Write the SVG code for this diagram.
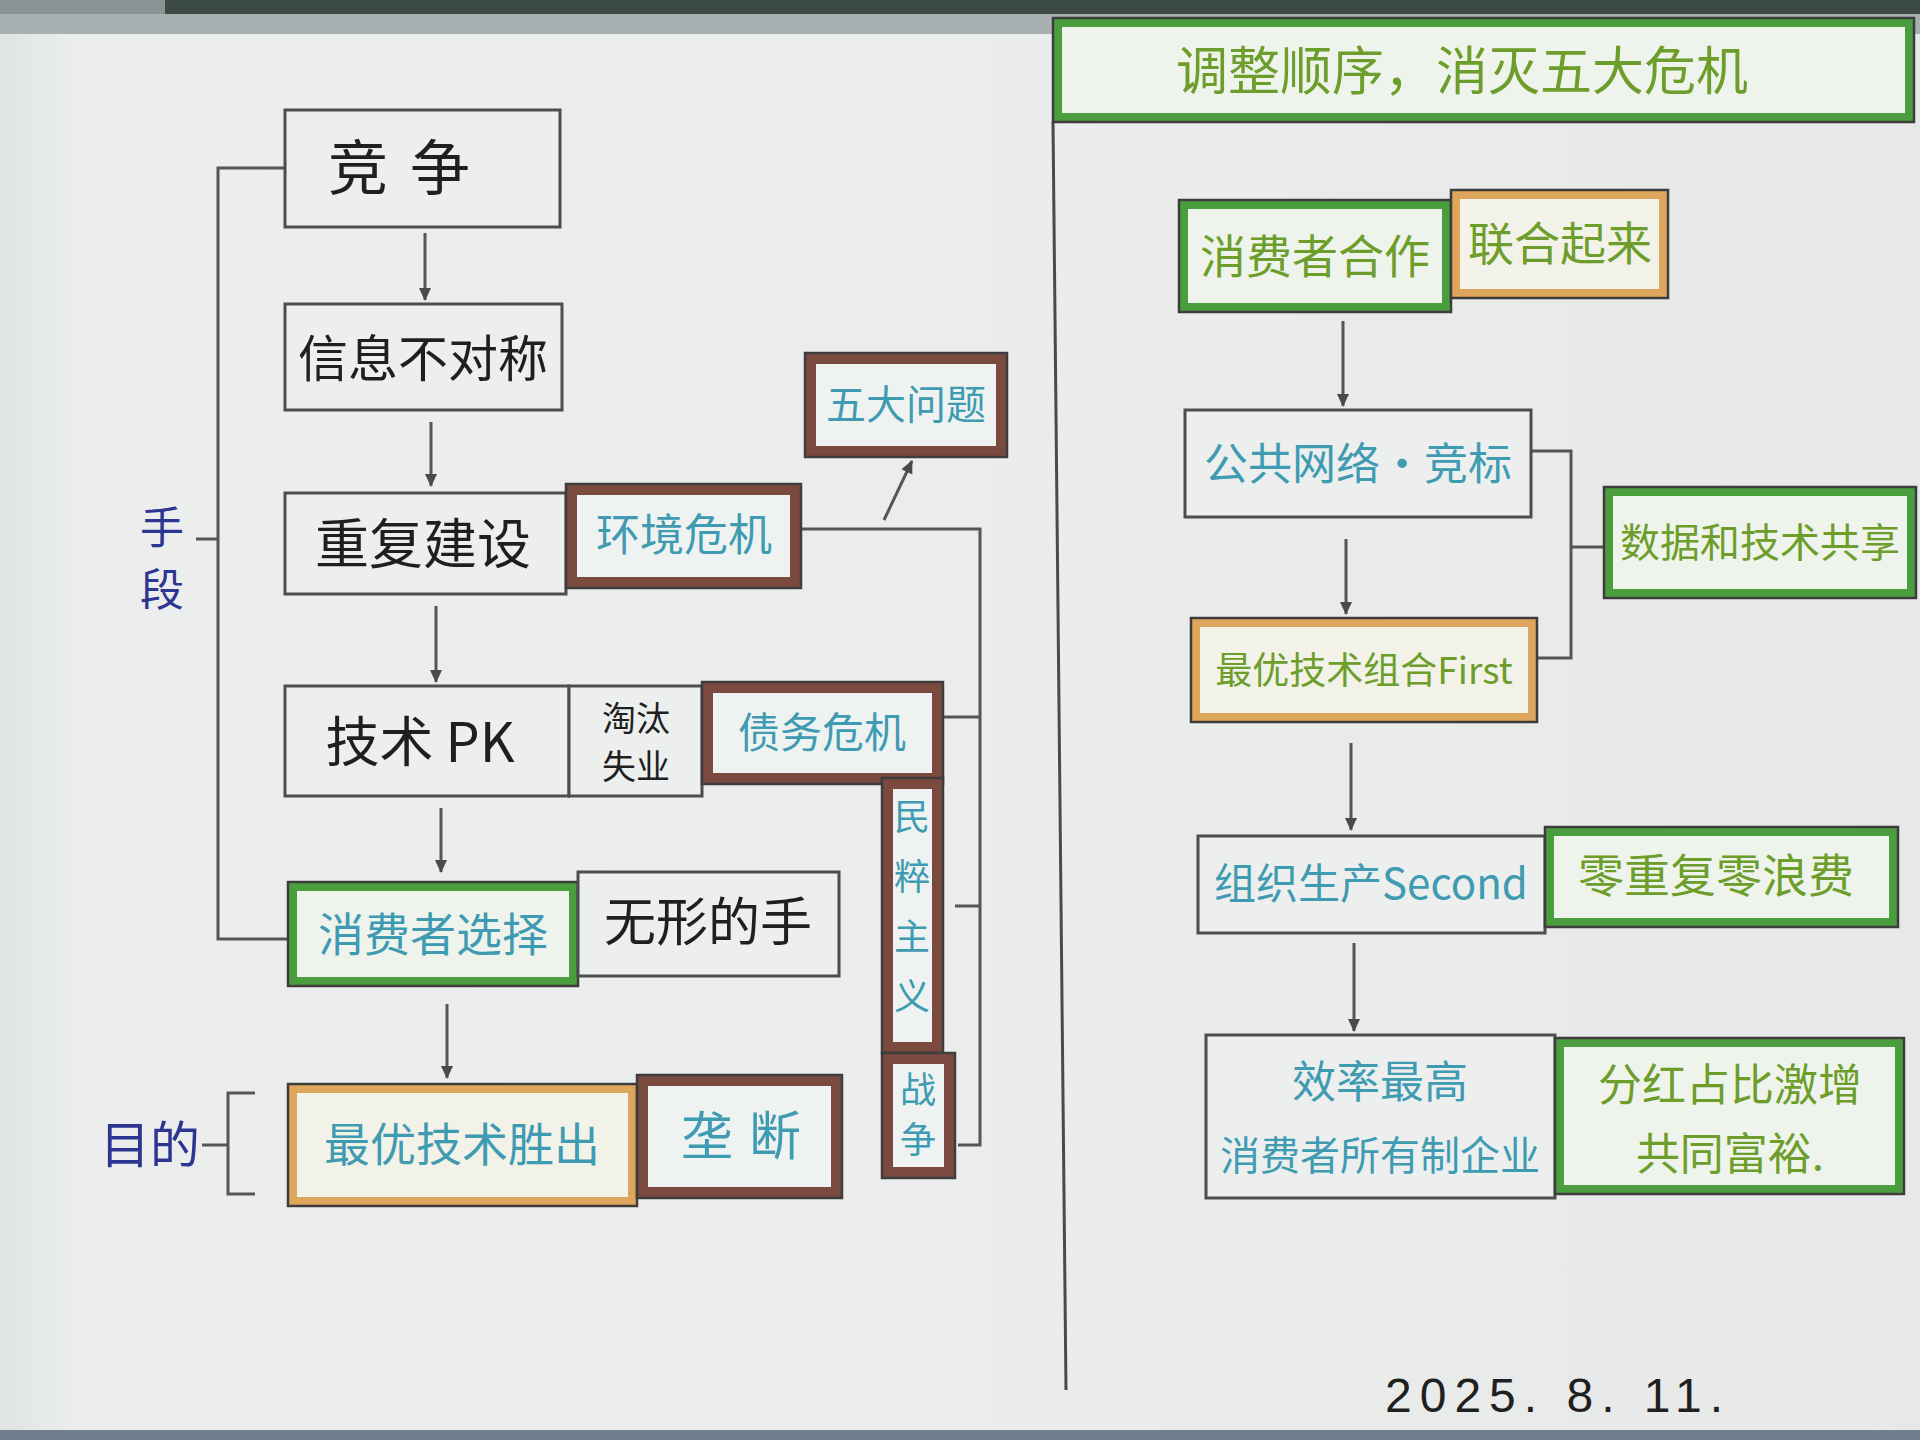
<svg xmlns="http://www.w3.org/2000/svg" width="1920" height="1440" viewBox="0 0 1920 1440">
<defs>
<linearGradient id="paper" x1="0" y1="0" x2="1" y2="0">
<stop offset="0" stop-color="#dfe3e3"/>
<stop offset="0.04" stop-color="#eceeee"/>
<stop offset="0.5" stop-color="#ebedec"/>
<stop offset="1" stop-color="#e6e9e8"/>
</linearGradient>
<marker id="ah" markerWidth="16" markerHeight="16" refX="13" refY="8" orient="auto" markerUnits="userSpaceOnUse">
<path d="M1,2 L14,8 L1,14 Z" fill="#4a4a4a"/>
</marker>
<style>
.box{fill:#ecefee;stroke:#4d4d4d;stroke-width:3}
.brown{fill:#eef3f2;stroke:#7b4a3f;stroke-width:11}
.green{fill:#eef4ec;stroke:#4b9e3e;stroke-width:9}
.orange{fill:#f2f2e8;stroke:#dea65c;stroke-width:9}
.ol{fill:none;stroke:#3d3d3d;stroke-width:2.5}
.edge{fill:none;stroke:#555;stroke-width:3}
text{font-family:"Noto Sans CJK SC","Noto Sans",sans-serif;text-anchor:middle}
.k{fill:#1f1f1f}
.t{fill:#3f9bb1}
.g{fill:#6d9d2a}
.n{fill:#2c3592}
</style>
</defs>
<rect x="0" y="0" width="1920" height="1440" fill="url(#paper)"/>
<rect x="0" y="0" width="1920" height="14" fill="#3c4a46"/>
<rect x="0" y="0" width="165" height="14" fill="#8b9296"/>
<rect x="0" y="14" width="1920" height="20" fill="#a9b0b2"/>
<rect x="0" y="1430" width="1920" height="10" fill="#6f7f8e"/>
<line x1="1053" y1="122" x2="1066" y2="1390" stroke="#4a4a4a" stroke-width="3"/>

<g id="connectors">
<line class="edge" x1="425" y1="233" x2="425" y2="300" marker-end="url(#ah)"/>
<line class="edge" x1="431" y1="422" x2="431" y2="486" marker-end="url(#ah)"/>
<line class="edge" x1="436" y1="606" x2="436" y2="682" marker-end="url(#ah)"/>
<line class="edge" x1="441" y1="808" x2="441" y2="872" marker-end="url(#ah)"/>
<line class="edge" x1="447" y1="1004" x2="447" y2="1078" marker-end="url(#ah)"/>
<line class="edge" x1="884" y1="520" x2="912" y2="461" marker-end="url(#ah)"/>
<polyline class="edge" points="801,529 980,529 980,1145 958,1145"/>
<line class="edge" x1="943" y1="717" x2="980" y2="717"/>
<line class="edge" x1="955" y1="906" x2="980" y2="906"/>
<polyline class="edge" points="285,168 218,168 218,939 288,939"/>
<line class="edge" x1="196" y1="539" x2="218" y2="539"/>
<polyline class="edge" points="255,1093 228,1093 228,1194 255,1194"/>
<line class="edge" x1="202" y1="1145" x2="228" y2="1145"/>
<line class="edge" x1="1343" y1="321" x2="1343" y2="406" marker-end="url(#ah)"/>
<line class="edge" x1="1346" y1="539" x2="1346" y2="614" marker-end="url(#ah)"/>
<line class="edge" x1="1351" y1="743" x2="1351" y2="830" marker-end="url(#ah)"/>
<line class="edge" x1="1354" y1="943" x2="1354" y2="1031" marker-end="url(#ah)"/>
<polyline class="edge" points="1531,451 1571,451 1571,658 1537,658"/>
<line class="edge" x1="1571" y1="547" x2="1604" y2="547"/>
</g>

<g id="n-jingzheng">
<rect class="box" x="285" y="110" width="275" height="117"/>
<text class="k" x="410" y="190" font-size="60" letter-spacing="22">竞争</text>
</g>
<g id="n-xinxi">
<rect class="box" x="285" y="304" width="277" height="106"/>
<text class="k" x="423" y="377" font-size="50">信息不对称</text>
</g>
<g id="n-chongfu">
<rect class="box" x="285" y="493" width="281" height="101"/>
<text class="k" x="423" y="564" font-size="54">重复建设</text>
</g>
<g id="n-huanjing">
<rect class="brown" x="571.5" y="489.5" width="224" height="93"/>
<rect class="ol" x="566" y="484" width="235" height="104"/>
<text class="t" x="684" y="551" font-size="44">环境危机</text>
</g>
<g id="n-wuda">
<rect class="brown" x="810.5" y="358.5" width="191" height="93"/>
<rect class="ol" x="805" y="353" width="202" height="104"/>
<text class="t" x="906" y="419" font-size="40">五大问题</text>
</g>
<g id="n-jishupk">
<rect class="box" x="285" y="686" width="284" height="110"/>
<text class="k" x="420" y="762" font-size="54">技术 PK</text>
</g>
<g id="n-taotai">
<rect class="box" x="569" y="686" width="133" height="110"/>
<text class="k" x="636" y="731" font-size="34">淘汰</text>
<text class="k" x="636" y="779" font-size="34">失业</text>
</g>
<g id="n-zhaiwu">
<rect class="brown" x="707.5" y="687.5" width="230" height="91"/>
<rect class="ol" x="702" y="682" width="241" height="102"/>
<text class="t" x="822" y="748" font-size="42">债务危机</text>
</g>
<g id="n-mincui">
<rect class="brown" x="887.5" y="783.5" width="50" height="264"/>
<rect class="ol" x="882" y="778" width="61" height="275"/>
<text class="t" x="912" y="830" font-size="36">民</text>
<text class="t" x="912" y="890" font-size="36">粹</text>
<text class="t" x="912" y="950" font-size="36">主</text>
<text class="t" x="912" y="1010" font-size="36">义</text>
</g>
<g id="n-zhanzheng">
<rect class="brown" x="887.5" y="1058.5" width="62" height="114"/>
<rect class="ol" x="882" y="1053" width="73" height="125"/>
<text class="t" x="918" y="1103" font-size="36">战</text>
<text class="t" x="918" y="1153" font-size="36">争</text>
</g>
<g id="n-xiaofeizhe">
<rect class="green" x="292.5" y="886.5" width="281" height="95"/>
<rect class="ol" x="288" y="882" width="290" height="104"/>
<text class="t" x="433" y="951" font-size="46">消费者选择</text>
</g>
<g id="n-wuxing">
<rect class="box" x="578" y="872" width="261" height="104"/>
<text class="k" x="708" y="941" font-size="52">无形的手</text>
</g>
<g id="n-zuiyou">
<rect class="orange" x="292.5" y="1088.5" width="340" height="113"/>
<rect class="ol" x="288" y="1084" width="349" height="122"/>
<text class="t" x="462" y="1161" font-size="46">最优技术胜出</text>
</g>
<g id="n-longduan">
<rect class="brown" x="642.5" y="1080.5" width="194" height="112"/>
<rect class="ol" x="637" y="1075" width="205" height="123"/>
<text class="t" x="749" y="1155" font-size="52" letter-spacing="16">垄断</text>
</g>
<g id="l-shouduan">
<text class="n" x="162" y="544" font-size="44">手</text>
<text class="n" x="162" y="606" font-size="44">段</text>
</g>
<g id="l-mudi">
<text class="n" x="150" y="1163" font-size="50">目的</text>
</g>

<g id="n-title">
<rect class="green" x="1057.5" y="22.5" width="852" height="95"/>
<rect class="ol" x="1053" y="18" width="861" height="104"/>
<text class="g" x="1462" y="90" font-size="52">调整顺序，消灭五大危机</text>
</g>
<g id="n-hezuo">
<rect class="green" x="1183.5" y="204.5" width="263" height="103"/>
<rect class="ol" x="1179" y="200" width="272" height="112"/>
<text class="g" x="1315" y="273" font-size="46">消费者合作</text>
</g>
<g id="n-lianhe">
<rect class="orange" x="1455.5" y="194.5" width="208" height="99"/>
<rect class="ol" x="1451" y="190" width="217" height="108"/>
<text class="g" x="1560" y="260" font-size="46">联合起来</text>
</g>
<g id="n-gonggong">
<rect class="box" x="1185" y="410" width="346" height="107"/>
<text class="t" x="1358" y="480" font-size="44">公共网络·竞标</text>
</g>
<g id="n-zuhe">
<rect class="orange" x="1195.5" y="622.5" width="337" height="95"/>
<rect class="ol" x="1191" y="618" width="346" height="104"/>
<text class="g" x="1364" y="684" font-size="37">最优技术组合First</text>
</g>
<g id="n-shuju">
<rect class="green" x="1608.5" y="491.5" width="303" height="102"/>
<rect class="ol" x="1604" y="487" width="312" height="111"/>
<text class="g" x="1760" y="557" font-size="40">数据和技术共享</text>
</g>
<g id="n-zuzhi">
<rect class="box" x="1198" y="836" width="347" height="97"/>
<text class="t" x="1371" y="899" font-size="42">组织生产Second</text>
</g>
<g id="n-ling">
<rect class="green" x="1549.5" y="831.5" width="344" height="91"/>
<rect class="ol" x="1545" y="827" width="353" height="100"/>
<text class="g" x="1716" y="892" font-size="46">零重复零浪费</text>
</g>
<g id="n-xiaolv">
<rect class="box" x="1206" y="1035" width="349" height="163"/>
<text class="t" x="1380" y="1098" font-size="44">效率最高</text>
<text class="t" x="1380" y="1170" font-size="40">消费者所有制企业</text>
</g>
<g id="n-fenhong">
<rect class="green" x="1559.5" y="1042.5" width="340" height="147"/>
<rect class="ol" x="1555" y="1038" width="349" height="156"/>
<text class="g" x="1730" y="1101" font-size="44">分红占比激增</text>
<text class="g" x="1730" y="1170" font-size="44">共同富裕.</text>
</g>
<text class="k" x="1558" y="1412" font-size="48" letter-spacing="8" style="font-family:'Liberation Sans',sans-serif">2025. 8. 11.</text>
</svg>
